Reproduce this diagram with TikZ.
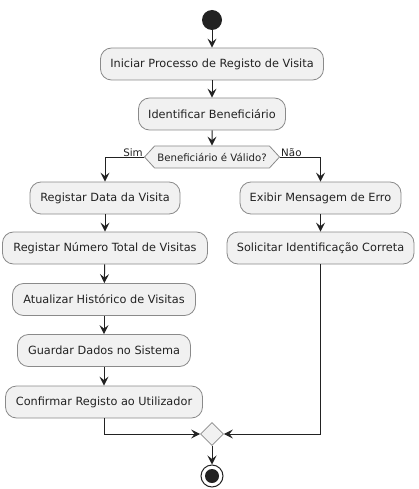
\documentclass[tikz,border=0pt]{standalone}
\usepackage{fontspec}
\setmainfont{DejaVu Sans}
\usetikzlibrary{arrows.meta,shapes.geometric,shapes.symbols}
\definecolor{boxfill}{HTML}{F1F1F1}
\definecolor{boxline}{HTML}{8A8A8A}
\definecolor{ink}{HTML}{222222}
\begin{document}
\begin{tikzpicture}[x=1pt,y=-1pt,
  act/.style={draw=boxline,fill=boxfill,rounded corners=11pt,line width=0.8pt,
    minimum height=32pt,inner sep=0pt,font=\fontsize{11.3}{13}\selectfont,text=ink},
  flow/.style={draw=ink,line width=1pt,-{Stealth[length=9pt,width=9pt,inset=3.5pt]}},
  lbl/.style={font=\fontsize{10.3}{12}\selectfont,text=ink,inner sep=1pt}]
\useasboundingbox (0,0) rectangle (418,489);
\node[circle,fill=ink,minimum size=20pt,inner sep=0pt] (start) at (212,20) {};
\node[act,minimum width=223pt] (a1) at (212,64) {Iniciar Processo de Registo de Visita};
\node[act,minimum width=147pt] (a2) at (212,114) {Identificar Beneficiário};
\node[shape=signal,signal to=west and east,signal pointer angle=95,draw=boxline,fill=boxfill,
  line width=0.8pt,minimum width=135pt,minimum height=22pt,inner sep=0pt,
  font=\fontsize{10.2}{12}\selectfont,text=ink] (dec) at (212,157) {Beneficiário é Válido?};
\node[act,minimum width=150pt] (l1) at (105,198) {Registar Data da Visita};
\node[act,minimum width=205pt] (l2) at (105,248) {Registar Número Total de Visitas};
\node[act,minimum width=183pt] (l3) at (104,299.5) {Atualizar Histórico de Visitas};
\node[act,minimum width=173pt] (l4) at (104,350.5) {Guardar Dados no Sistema};
\node[act,minimum width=197pt] (l5) at (104,402) {Confirmar Registo ao Utilizador};
\node[act,minimum width=161pt] (r1) at (320.5,198) {Exibir Mensagem de Erro};
\node[act,minimum width=187pt] (r2) at (320.5,248) {Solicitar Identificação Correta};
\node[diamond,draw=boxline,fill=boxfill,line width=0.8pt,minimum size=23pt,inner sep=0pt] (merge) at (212,434) {};
\node[circle,draw=ink,line width=1pt,fill=white,minimum size=22pt,inner sep=0pt] (stop) at (212,476) {};
\node[circle,fill=ink,minimum size=14pt,inner sep=0pt] (stopin) at (stop.center) {};
\draw[flow] (start) -- (a1);
\draw[flow] (a1) -- (a2);
\draw[flow] (a2) -- (dec);
\draw[flow] (dec.west) -| (l1.north);
\draw[flow] (dec.east) -| (r1.north);
\node[lbl,anchor=south east] (sim) at ([yshift=-1pt]dec.west) {Sim};
\node[lbl,anchor=south west] (nao) at ([yshift=-1pt]dec.east) {Não};
\draw[flow] (l1) -- (l2);
\draw[flow] (l2) -- (l3);
\draw[flow] (l3) -- (l4);
\draw[flow] (l4) -- (l5);
\draw[flow] (r1) -- (r2);
\draw[flow] (l5.south) |- (merge.west);
\draw[flow] (r2.south) |- (merge.east);
\draw[flow] (merge) -- (stop);
\end{tikzpicture}
\end{document}
